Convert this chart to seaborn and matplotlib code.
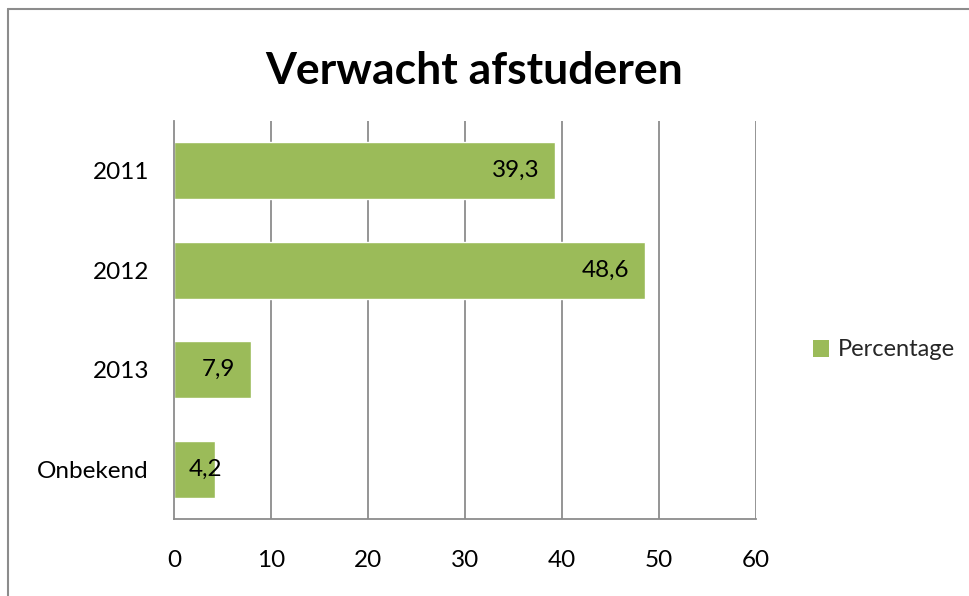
import pandas as pd
import seaborn as sns
import matplotlib.pyplot as plt
from matplotlib.patches import Rectangle
from matplotlib.lines import Line2D

# chart data
categories = ["2011", "2012", "2013", "Onbekend"]
percentages = [39.3, 48.6, 7.9, 4.2]
value_labels = ["39,3", "48,6", "7,9", "4,2"]
x_ticks = [0, 10, 20, 30, 40, 50, 60]

df = pd.DataFrame({"categorie": categories, "Percentage": percentages})

sns.set_theme(style="white")
plt.rcParams["font.family"] = ["Lato", "DejaVu Sans"]

bar_color = "#9BBB59"
grid_color = "#8C8C8C"
fs = 17.5

fig = plt.figure(figsize=(9.70, 5.96), dpi=100)
ax = fig.add_axes([174 / 970, 1 - 519 / 596, (756 - 174) / 970, (519 - 121) / 596])

sns.barplot(data=df, y="categorie", x="Percentage", color=bar_color,
            width=0.57, saturation=1, orient="h", ax=ax)

ax.set_xlim(0, 60)
ax.set_ylim(3.5, -0.5)
ax.set_xticks(x_ticks)
ax.set_xticklabels([str(t) for t in x_ticks])
ax.set_xlabel("")
ax.set_ylabel("")
ax.tick_params(axis="both", length=0, labelsize=fs, colors="black")
ax.tick_params(axis="x", pad=22)
ax.tick_params(axis="y", pad=18)

# vertical gridlines
ax.grid(False)
for t in x_ticks[1:]:
    ax.axvline(t, color=grid_color, lw=1.3, zorder=0)

for side in ["top", "right"]:
    ax.spines[side].set_visible(False)
for side in ["left", "bottom"]:
    ax.spines[side].set_color(grid_color)
    ax.spines[side].set_linewidth(1.3)

# data labels, inside the end of each bar
px_per_unit = (756 - 174) / 60
for i, (v, lab) in enumerate(zip(percentages, value_labels)):
    right_px = max(v * px_per_unit - 16, 48)
    ax.text(right_px / px_per_unit, i, lab, ha="right", va="center",
            fontsize=fs, color="black")

# legend
handle = Rectangle((0, 0), 1, 1, facecolor=bar_color, edgecolor="none")
fig.legend([handle], ["Percentage"], loc="center left",
           bbox_to_anchor=(801 / 970, 1 - 350 / 596), frameon=False,
           fontsize=17, handlelength=0.7, handleheight=0.7,
           handletextpad=0.35, borderpad=0)

# title
fig.text(474 / 970, 1 - 71 / 596, "Verwacht afstuderen", ha="center",
         va="center", fontsize=32, fontweight="bold", color="black")

# chart area border (only left and top visible in the crop)
fig.add_artist(Line2D([8 / 970, 8 / 970], [0, 1 - 9 / 596],
                      color=grid_color, lw=1.5, transform=fig.transFigure))
fig.add_artist(Line2D([8 / 970, 1], [1 - 9 / 596, 1 - 9 / 596],
                      color=grid_color, lw=1.5, transform=fig.transFigure))

fig.savefig("out.png", dpi=100)
